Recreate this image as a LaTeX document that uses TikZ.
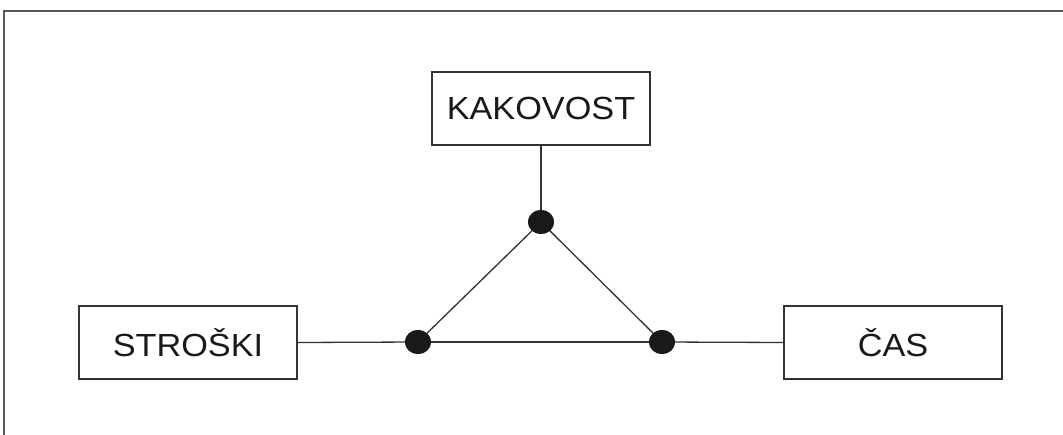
\documentclass[tikz,border=0pt]{standalone}
\usepackage{fontspec}
\setmainfont{Liberation Sans}[FakeStretch=1.07]
\usetikzlibrary{shapes.geometric}
\begin{document}
\begin{tikzpicture}[x=1pt,y=-1pt,
  labelbox/.style={draw=black!80, line width=1.5pt, minimum width=218pt, minimum height=73pt,
    inner sep=0pt, font=\fontsize{32}{38}\selectfont, text=black!90},
  joint/.style={ellipse, fill=black!90, draw=none, minimum width=26pt, minimum height=24pt, inner sep=0pt},
  link/.style={draw=black!80, line width=1.3pt}]
  \useasboundingbox (0,0) rectangle (1063,435);
  % frame
  \draw[black!65, line width=2pt] (4,435) -- (4,11) -- (1063,11);
  % boxes
  \node[labelbox] (kak) at (541,108.5) {KAKOVOST};
  \node[labelbox] (str) at (188,342.5) {STROŠKI};
  \node[labelbox] (cas) at (893,342.5) {ČAS};
  % joints
  \node[joint] (dtop) at (541,222) {};
  \node[joint] (dleft) at (418,342) {};
  \node[joint] (dright) at (662,342) {};
  % connectors
  \draw[link] (kak.south) -- (dtop.center);
  \draw[link] (dtop.center) -- (dleft.center);
  \draw[link] (dtop.center) -- (dright.center);
  \draw[link] (dleft.center) -- (dright.center);
  \draw[link] (str.east) -- (dleft.center);
  \draw[link] (dright.center) -- (cas.west);
  % redraw joints on top
  \node[joint] at (dtop) {};
  \node[joint] at (dleft) {};
  \node[joint] at (dright) {};
\end{tikzpicture}
\end{document}
